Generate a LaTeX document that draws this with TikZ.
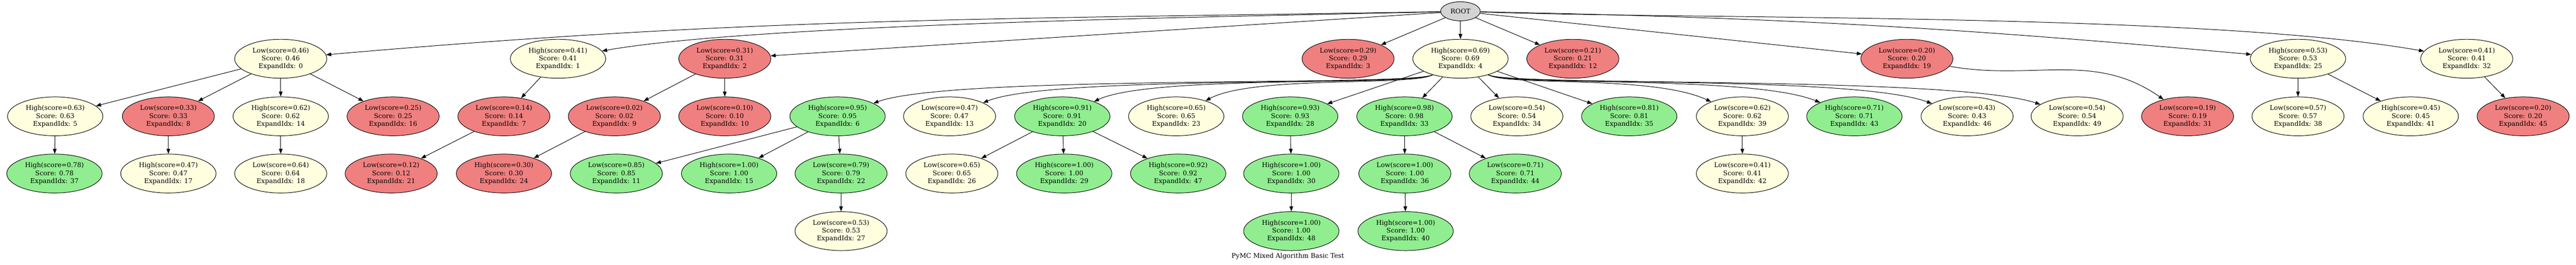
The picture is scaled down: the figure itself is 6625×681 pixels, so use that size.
\documentclass[tikz,border=0pt]{standalone}
\usepackage{fontspec}
\setmainfont{DejaVu Serif}
\usepackage{tikz}
\usetikzlibrary{arrows.meta,shapes.geometric}

\definecolor{gvyellow}{HTML}{FFFFE0}
\definecolor{gvred}{HTML}{F08080}
\definecolor{gvgreen}{HTML}{90EE90}
\definecolor{gvgrey}{HTML}{D3D3D3}

\newcommand{\nodetext}[3]{#1(score=#2)\\Score: #2\\ExpandIdx: #3}

\begin{document}
\begin{tikzpicture}[x=0.2pt,y=0.2pt]
	\tikzstyle{every node}+=[font=\fontsize{3.34}{4.02}\selectfont]
	\tikzstyle{treenode}=[ellipse, draw=black, line width=0.26pt, align=center, inner xsep=2.2pt, inner ysep=0pt, minimum height=20pt]
	\tikzstyle{ynode}=[treenode, fill=gvyellow]
	\tikzstyle{rnode}=[treenode, fill=gvred]
	\tikzstyle{gnode}=[treenode, fill=gvgreen]
	\tikzstyle{rootnode}=[ellipse, draw=black, line width=0.26pt, fill=gvgrey, minimum width=20.4pt, minimum height=9.8pt, inner sep=0pt]
	\tikzstyle{treearrow}=[black, line width=0.26pt, -{Triangle[length=2.6pt,width=1.9pt]}]
	\useasboundingbox (0,0) rectangle (6625,-681);
	% root and first level
	\node [rootnode] (root) at (3756,-29) {ROOT};
	\node [ynode] (n0) at (722,-151) {\nodetext{Low}{0.46}{0}};
	\node [ynode] (n1) at (1435,-151) {\nodetext{High}{0.41}{1}};
	\node [rnode] (n2) at (1864,-151) {\nodetext{Low}{0.31}{2}};
	\node [rnode] (n3) at (3467,-151) {\nodetext{Low}{0.29}{3}};
	\node [ynode] (n4) at (3756,-151) {\nodetext{High}{0.69}{4}};
	\node [rnode] (n12) at (4045,-151) {\nodetext{Low}{0.21}{12}};
	\node [rnode] (n19) at (4904,-151) {\nodetext{Low}{0.20}{19}};
	\node [ynode] (n25) at (5910,-151) {\nodetext{High}{0.53}{25}};
	\node [ynode] (n32) at (6344,-151) {\nodetext{Low}{0.41}{32}};
	% second level
	\node [ynode] (n5) at (142,-299) {\nodetext{High}{0.63}{5}};
	\node [rnode] (n8) at (433,-299) {\nodetext{Low}{0.33}{8}};
	\node [ynode] (n14) at (722,-299) {\nodetext{High}{0.62}{14}};
	\node [rnode] (n16) at (1011,-299) {\nodetext{Low}{0.25}{16}};
	\node [rnode] (n7) at (1296,-299) {\nodetext{Low}{0.14}{7}};
	\node [rnode] (n9) at (1580,-299) {\nodetext{Low}{0.02}{9}};
	\node [rnode] (n10) at (1864,-299) {\nodetext{Low}{0.10}{10}};
	\node [gnode] (n6) at (2154,-299) {\nodetext{High}{0.95}{6}};
	\node [ynode] (n13) at (2442,-299) {\nodetext{Low}{0.47}{13}};
	\node [gnode] (n20) at (2732,-299) {\nodetext{High}{0.91}{20}};
	\node [ynode] (n23) at (3025,-299) {\nodetext{High}{0.65}{23}};
	\node [gnode] (n28) at (3318,-299) {\nodetext{High}{0.93}{28}};
	\node [gnode] (n33) at (3612,-299) {\nodetext{High}{0.98}{33}};
	\node [ynode] (n34) at (3901,-299) {\nodetext{Low}{0.54}{34}};
	\node [gnode] (n35) at (4190,-299) {\nodetext{High}{0.81}{35}};
	\node [ynode] (n39) at (4481,-299) {\nodetext{Low}{0.62}{39}};
	\node [gnode] (n43) at (4769,-299) {\nodetext{High}{0.71}{43}};
	\node [ynode] (n46) at (5059,-299) {\nodetext{Low}{0.43}{46}};
	\node [ynode] (n49) at (5342,-299) {\nodetext{Low}{0.54}{49}};
	\node [rnode] (n31) at (5626,-299) {\nodetext{Low}{0.19}{31}};
	\node [ynode] (n38) at (5910,-299) {\nodetext{Low}{0.57}{38}};
	\node [ynode] (n41) at (6200,-299) {\nodetext{High}{0.45}{41}};
	\node [rnode] (n45) at (6489,-299) {\nodetext{Low}{0.20}{45}};
	% third level
	\node [gnode] (n37) at (140,-446) {\nodetext{High}{0.78}{37}};
	\node [ynode] (n17) at (433,-446) {\nodetext{High}{0.47}{17}};
	\node [ynode] (n18) at (722,-446) {\nodetext{Low}{0.64}{18}};
	\node [rnode] (n21) at (1006,-446) {\nodetext{Low}{0.12}{21}};
	\node [rnode] (n24) at (1296,-446) {\nodetext{High}{0.30}{24}};
	\node [gnode] (n11) at (1585,-446) {\nodetext{Low}{0.85}{11}};
	\node [gnode] (n15) at (1875,-446) {\nodetext{High}{1.00}{15}};
	\node [gnode] (n22) at (2163,-446) {\nodetext{Low}{0.79}{22}};
	\node [ynode] (n26) at (2448,-446) {\nodetext{Low}{0.65}{26}};
	\node [gnode] (n29) at (2737,-446) {\nodetext{High}{1.00}{29}};
	\node [gnode] (n47) at (3030,-446) {\nodetext{High}{0.92}{47}};
	\node [gnode] (n30) at (3321,-446) {\nodetext{High}{1.00}{30}};
	\node [gnode] (n36) at (3613,-446) {\nodetext{Low}{1.00}{36}};
	\node [gnode] (n44) at (3897,-446) {\nodetext{Low}{0.71}{44}};
	\node [ynode] (n42) at (4481,-446) {\nodetext{Low}{0.41}{42}};
	% fourth level
	\node [ynode] (n27) at (2163,-594) {\nodetext{Low}{0.53}{27}};
	\node [gnode] (n48) at (3321,-594) {\nodetext{High}{1.00}{48}};
	\node [gnode] (n40) at (3615,-594) {\nodetext{High}{1.00}{40}};
	\node (caption) at (3312,-659) {PyMC Mixed Algorithm Basic Test};
	% edges from root
	\draw [treearrow] (root) to[out=181,in=5] (n0);
	\draw [treearrow] (root) to[out=181.5,in=10,looseness=0.5] (n1);
	\draw [treearrow] (root) -- (n2);
	\draw [treearrow] (root) -- (n3);
	\draw [treearrow] (root) -- (n4);
	\draw [treearrow] (root) -- (n12);
	\draw [treearrow] (root) -- (n19);
	\draw [treearrow] (root) to[bend left=2] (n25);
	\draw [treearrow] (root) to[out=-2,in=170,looseness=0.6] (n32);
	% edges from the first level
	\draw [treearrow] (n0) -- (n5);
	\draw [treearrow] (n0) -- (n8);
	\draw [treearrow] (n0) -- (n14);
	\draw [treearrow] (n0) -- (n16);
	\draw [treearrow] (n1) -- (n7);
	\draw [treearrow] (n2) -- (n9);
	\draw [treearrow] (n2) -- (n10);
	\draw [treearrow] (n4) to[out=210,in=20,out distance=12pt,in distance=43pt] (n6);
	\draw [treearrow] (n4) to[out=210,in=22,out distance=12pt,in distance=38pt] (n13);
	\draw [treearrow] (n4) to[out=210,in=25,out distance=12pt,in distance=33pt] (n20);
	\draw [treearrow] (n4) to[out=210,in=28,out distance=12pt,in distance=28pt] (n23);
	\draw [treearrow] (n4) -- (n28);
	\draw [treearrow] (n4) -- (n33);
	\draw [treearrow] (n4) -- (n34);
	\draw [treearrow] (n4) -- (n35);
	\draw [treearrow] (n4) to[out=-30,in=155,out distance=12pt,in distance=33pt] (n39);
	\draw [treearrow] (n4) to[out=-30,in=158,out distance=12pt,in distance=38pt] (n43);
	\draw [treearrow] (n4) to[out=-30,in=160,out distance=12pt,in distance=43pt] (n46);
	\draw [treearrow] (n4) to[out=-30,in=162,out distance=12pt,in distance=48pt] (n49);
	\draw [treearrow] (n19) to[out=-10,in=145] (n31);
	\draw [treearrow] (n25) -- (n38);
	\draw [treearrow] (n25) -- (n41);
	\draw [treearrow] (n32) -- (n45);
	% edges from the second level
	\draw [treearrow] (n5) -- (n37);
	\draw [treearrow] (n8) -- (n17);
	\draw [treearrow] (n14) -- (n18);
	\draw [treearrow] (n7) -- (n21);
	\draw [treearrow] (n9) -- (n24);
	\draw [treearrow] (n6) -- (n11);
	\draw [treearrow] (n6) -- (n15);
	\draw [treearrow] (n6) -- (n22);
	\draw [treearrow] (n20) -- (n26);
	\draw [treearrow] (n20) -- (n29);
	\draw [treearrow] (n20) -- (n47);
	\draw [treearrow] (n28) -- (n30);
	\draw [treearrow] (n33) -- (n36);
	\draw [treearrow] (n33) -- (n44);
	\draw [treearrow] (n39) -- (n42);
	% edges from the third level
	\draw [treearrow] (n22) -- (n27);
	\draw [treearrow] (n30) -- (n48);
	\draw [treearrow] (n36) -- (n40);
\end{tikzpicture}
\end{document}
